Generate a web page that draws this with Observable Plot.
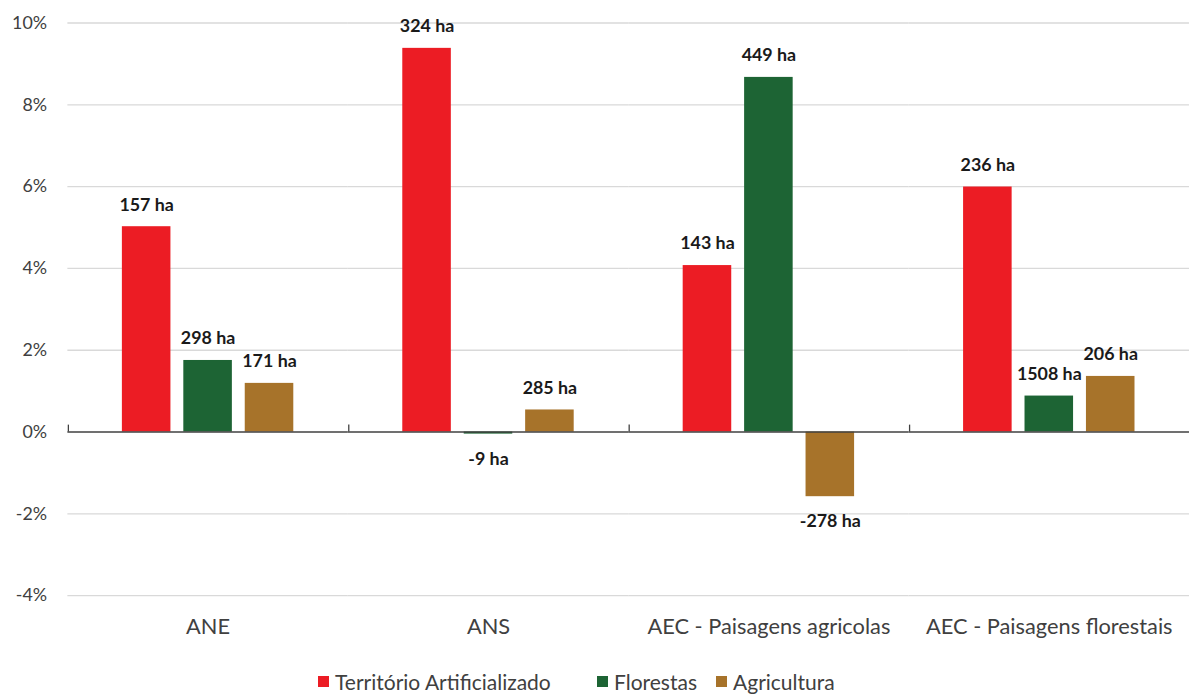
<!DOCTYPE html>
<html>
<head>
<meta charset="utf-8">
<script src="https://cdn.jsdelivr.net/npm/d3@7"></script>
<script src="https://cdn.jsdelivr.net/npm/@observablehq/plot@0.6"></script>
<style>
  html, body { margin: 0; padding: 0; background: #fff; overflow: hidden; }
  #chart { width: 1189px; height: 655px; overflow: hidden; }
  #legend { position: relative; width: 1189px; height: 42px; font-family: Lato, sans-serif; font-size: 21px; color: #404040; }
  .item { position: absolute; top: 5px; height: 42px; display: flex; align-items: center; white-space: nowrap; }
  .sw { width: 11px; height: 11px; margin-right: 6px; display: inline-block; }
</style>
</head>
<body>
<div id="chart"></div>
<div id="legend"></div>
<script>
// ---- data ----
const categories = ["ANE", "ANS", "AEC - Paisagens agricolas", "AEC - Paisagens florestais"];
const series = ["Território Artificializado", "Florestas", "Agricultura"];
const seriesColors = ["#ec1c24", "#1d6434", "#a7732a"];
const territorioValues = [5.02, 9.38, 4.07, 5.99];
const florestasValues = [1.75, -0.05, 8.67, 0.88];
const agriculturaValues = [1.19, 0.54, -1.58, 1.36];
const territorioLabels = ["157 ha", "324 ha", "143 ha", "236 ha"];
const florestasLabels = ["298 ha", "-9 ha", "449 ha", "1508 ha"];
const agriculturaLabels = ["171 ha", "285 ha", "-278 ha", "206 ha"];
const yTicks = [-4, -2, 0, 2, 4, 6, 8, 10];
const legendLeft = [318, 597, 716];

// ---- table ----
const seriesValues = [territorioValues, florestasValues, agriculturaValues];
const seriesLabels = [territorioLabels, florestasLabels, agriculturaLabels];
const rows = [];
categories.forEach((c, ci) => {
  series.forEach((s, si) => {
    rows.push({category: c, series: s, value: seriesValues[si][ci], label: seriesLabels[si][ci]});
  });
});

// ---- layout ----
const W = 1200, H = 655, mL = 68, mR = 0, mT = 22.7, mB = 54.3;
const pInner = 0.208, pOuter = 0.868;
const facetW = (W - mL - mR) / categories.length;
const step = facetW / (series.length - pInner + 2 * pOuter);
const boundaryDx = -(pOuter * step + (1 - pInner) * step / 2);
const font = "Lato, sans-serif";

const chart = Plot.plot({
  width: W, height: H,
  marginLeft: mL, marginRight: mR, marginTop: mT, marginBottom: mB,
  style: {fontFamily: font, background: "#fff"},
  fx: {domain: categories, padding: 0, label: null},
  x: {domain: series, paddingInner: pInner, paddingOuter: pOuter, axis: null},
  y: {domain: [-4, 10], label: null},
  color: {domain: series, range: seriesColors},
  marks: [
    Plot.ruleY(yTicks.filter(d => d !== 0), {stroke: "#d9d9d9", strokeWidth: 1.3}),
    Plot.axisY({ticks: yTicks, tickSize: 0, tickPadding: 21, tickFormat: d => d + "%", fontSize: 18, fill: "#404040", label: null}),
    Plot.axisFx({anchor: "bottom", tickSize: 0, tickPadding: 23, fontSize: 22, fill: "#404040", label: null}),
    Plot.barY(rows, {fx: "category", x: "series", y: "value", fill: "series"}),
    Plot.ruleY([0], {stroke: "#404040", strokeWidth: 1.5}),
    Plot.ruleX(categories, {fx: d => d, x: () => series[0], y1: 0, y2: 0, dx: boundaryDx, insetBottom: 7, stroke: "#404040", strokeWidth: 1.3}),
    Plot.text(rows.filter(d => d.value >= 0), {fx: "category", x: "series", y: "value", text: "label", dy: -22, fontSize: 18, fontWeight: "bold", fill: "#1a1a1a"}),
    Plot.text(rows.filter(d => d.value < 0), {fx: "category", x: "series", y: "value", text: "label", dy: 25, fontSize: 18, fontWeight: "bold", fill: "#1a1a1a"})
  ]
});
document.getElementById("chart").appendChild(chart);

// ---- legend ----
const legend = document.getElementById("legend");
series.forEach((s, i) => {
  const item = document.createElement("div");
  item.className = "item";
  item.style.left = legendLeft[i] + "px";
  const sw = document.createElement("span");
  sw.className = "sw";
  sw.style.background = seriesColors[i];
  item.appendChild(sw);
  item.appendChild(document.createTextNode(s));
  legend.appendChild(item);
});
</script>
</body>
</html>
